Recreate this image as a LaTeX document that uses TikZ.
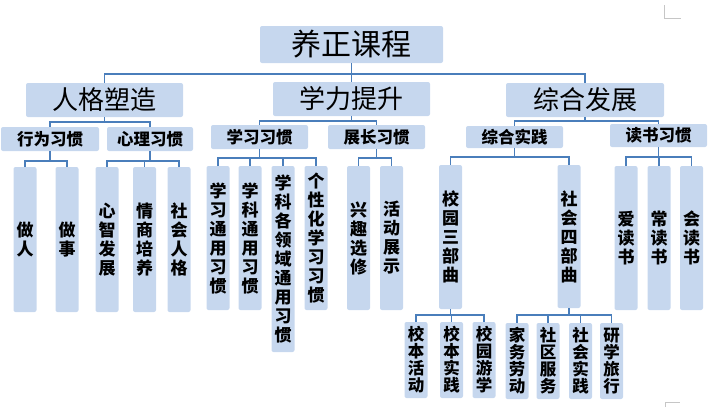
\documentclass[tikz,border=0pt]{standalone}
\usepackage{fontspec}
\setmainfont{Noto Sans CJK SC}
\usetikzlibrary{positioning}

\definecolor{boxblue}{RGB}{198,215,238}
\definecolor{linkblue}{RGB}{74,126,187}

\begin{document}
\begin{tikzpicture}[x=1pt, y=-1pt,
        box/.style={fill=boxblue, rounded corners=2pt, inner sep=0pt},
        top/.style={box, minimum width=183pt, minimum height=37pt, font=\fontsize{30}{32}\selectfont},
        main/.style={box, minimum width=157pt, minimum height=34pt, font=\fontsize{26}{28}\selectfont},
        sub/.style={box, minimum width=97pt, minimum height=24pt, font=\fontsize{16.5}{18}\selectfont\bfseries},
        leaf/.style={box, minimum width=23pt, minimum height=144pt, align=center, font=\fontsize{17}{19}\selectfont\bfseries},
        small/.style={box, minimum width=23pt, minimum height=76pt, align=center, font=\fontsize{16.5}{17}\selectfont\bfseries},
        link/.style={draw=linkblue, line width=1.8pt}]
    \useasboundingbox (0,0) rectangle (712,407);

    % Page corner marks
    \draw[gray!45, line width=0.6pt] (664,5) -- (664,18) -- (681,18);
    \draw[gray!45, line width=0.6pt] (665,407) -- (665,402) -- (680,402);

    % Root and main branches
    \node[top] (root) at (351.5,44.5) {养正课程};
    \node[main] (rg) at (104.5,100) {人格塑造};
    \node[main] (xl) at (351.5,99) {学力提升};
    \node[main, minimum width=158pt] (zh) at (585,100) {综合发展};

    % Habits
    \node[sub, minimum width=98pt] (xw) at (50,139) {行为习惯};
    \node[sub, minimum width=86pt] (xlg) at (150,139) {心理习惯};
    \node[sub] (xx) at (259.5,137) {学习习惯};
    \node[sub] (zc) at (376.5,137) {展长习惯};
    \node[sub, minimum height=22pt] (zs) at (514.5,137) {综合实践};
    \node[sub, minimum height=23pt] (ds) at (658.5,135.5) {读书习惯};

    % Leaves
    \node[leaf, minimum height=145pt] (zr) at (25,239.5) {做\\人};
    \node[leaf, minimum height=145pt] (zsh) at (67,239.5) {做\\事};
    \node[leaf, minimum height=145pt] (xz) at (107,239.5) {心\\智\\发\\展};
    \node[leaf, minimum height=145pt] (qs) at (144.5,239.5) {情\\商\\培\\养};
    \node[leaf, minimum height=145pt] (shr) at (179,239.5) {社\\会\\人\\格};
    \node[leaf] (xt) at (218,238) {学\\习\\通\\用\\习\\惯};
    \node[leaf] (kt) at (250,238) {学\\科\\通\\用\\习\\惯};
    \node[leaf, minimum height=186pt] (gl) at (283,259) {学\\科\\各\\领\\域\\通\\用\\习\\惯};
    \node[leaf] (gx) at (316,238) {个\\性\\化\\学\\习\\习\\惯};
    \node[leaf] (xq) at (358.5,238) {兴\\趣\\选\\修};
    \node[leaf] (hd) at (391.5,238) {活\\动\\展\\示};
    \node[leaf] (xy) at (450.5,237) {校\\园\\三\\部\\曲};
    \node[leaf, minimum height=143pt] (sh) at (569,236.5) {社\\会\\四\\部\\曲};
    \node[leaf] (ad) at (626,238) {爱\\读\\书};
    \node[leaf] (cd) at (659,238) {常\\读\\书};
    \node[leaf] (hs) at (691.5,238) {会\\读\\书};

    % Bottom row
    \node[small] (bh) at (416,360) {校\\本\\活\\动};
    \node[small] (bs) at (451.5,360) {校\\本\\实\\践};
    \node[small] (yx) at (484,360) {校\\园\\游\\学};
    \node[small] (jw) at (517,361) {家\\务\\劳\\动};
    \node[small] (sq) at (548,361) {社\\区\\服\\务};
    \node[small] (sj) at (580.5,361) {社\\会\\实\\践};
    \node[small] (yl) at (611.5,361) {研\\学\\旅\\行};

    % Connectors
    \foreach \c in {rg,xl,zh} \draw[link] (root.south) -- ++(0,11) -| (\c.north);
    \foreach \c in {xw,xlg} \draw[link] (rg.south) -- ++(0,5) -| (\c.north);
    \foreach \c in {xx,zc} \draw[link] (xl.south) -- ++(0,5) -| (\c.north);
    \foreach \c in {zs,ds} \draw[link] (zh.south) -- ++(0,3.5) -| (\c.north);
    \foreach \c in {zr,zsh} \draw[link] (xw.south) -- ++(0,10) -| (\c.north);
    \foreach \c in {xz,qs,shr} \draw[link] (xlg.south) -- ++(0,10) -| (\c.north);
    \foreach \c in {xt,kt,gl,gx} \draw[link] (xx.south) -- ++(0,9) -| (\c.north);
    \foreach \c in {xq,hd} \draw[link] (zc.south) -- ++(0,9) -| (\c.north);
    \foreach \c in {xy,sh} \draw[link] (zs.south) -- ++(0,9) -| (\c.north);
    \foreach \c in {ad,cd,hs} \draw[link] (ds.south) -- ++(0,10) -| (\c.north);
    \foreach \c in {bh,bs,yx} \draw[link] (xy.south) -- ++(0,6) -| (\c.north);
    \foreach \c in {jw,sq,sj,yl} \draw[link] (sh.south) -- ++(0,7) -| (\c.north);
\end{tikzpicture}
\end{document}
